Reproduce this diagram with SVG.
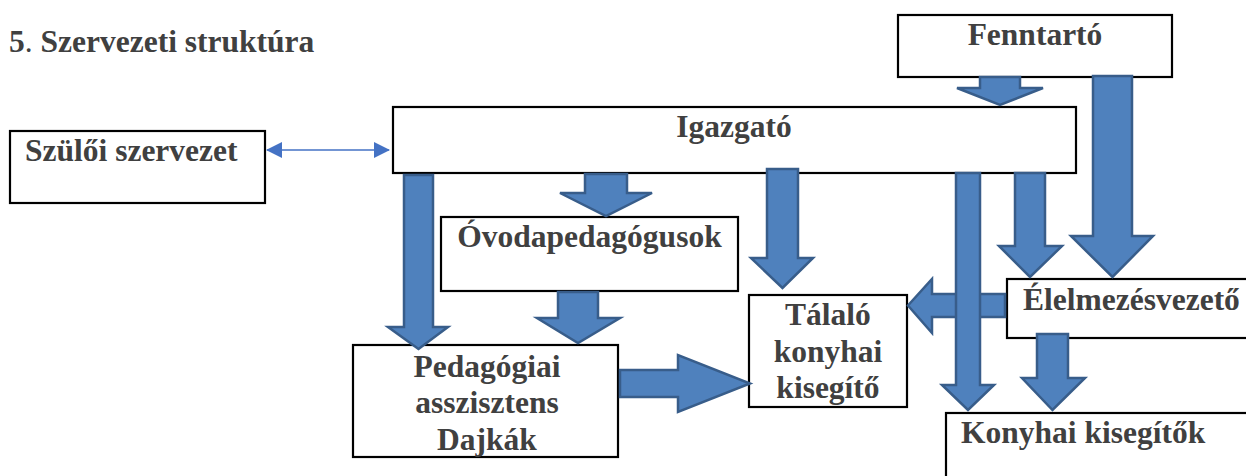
<svg xmlns="http://www.w3.org/2000/svg" width="1246" height="476" viewBox="0 0 1246 476">
<defs>
<style>
.box{fill:#ffffff;stroke:#000000;stroke-width:2.2}
.t{font-family:"Liberation Serif","Times New Roman",serif;font-weight:bold;font-size:31.5px;fill:#404040}
.c{text-anchor:middle}
.arr{fill:#4F81BD;stroke:#385D8A;stroke-width:2.5;stroke-linejoin:miter}
.thin{stroke:#4472C4;stroke-width:1.5;fill:none}
</style>
<marker id="ah" viewBox="0 0 16 16" refX="15" refY="8" markerWidth="16" markerHeight="16" markerUnits="userSpaceOnUse" orient="auto-start-reverse">
<path d="M0,0 L16,8 L0,16 Z" fill="#4472C4"/>
</marker>
</defs>
<rect width="1246" height="476" fill="#ffffff"/>
<text class="t" x="9" y="52">5<tspan font-weight="normal">.</tspan> Szervezeti struktúra</text>

<g id="fenntarto"><rect class="box" x="898" y="15" width="274" height="62"/><text class="t c" x="1035" y="45">Fenntartó</text></g>
<g id="igazgato"><rect class="box" x="393" y="107" width="683" height="66"/><text class="t c" x="734" y="137">Igazgató</text></g>
<g id="szuloi"><rect class="box" x="10" y="131" width="255" height="72"/><text class="t" x="25" y="161">Szülői szervezet</text></g>
<g id="ovoda"><rect class="box" x="441" y="217" width="297" height="74"/><text class="t c" x="589.5" y="247">Óvodapedagógusok</text></g>
<g id="pedasszisztens"><rect class="box" x="353" y="345" width="265" height="112"/><text class="t c" x="487" y="377">Pedagógiai</text><text class="t c" x="487" y="413">asszisztens</text><text class="t c" x="487" y="450">Dajkák</text></g>
<g id="talalo"><rect class="box" x="749" y="295" width="158" height="112"/><text class="t c" x="828" y="325">Tálaló</text><text class="t c" x="828" y="362">konyhai</text><text class="t c" x="828" y="398">kisegítő</text></g>
<g id="elelmezes"><rect class="box" x="1007" y="279" width="246" height="59"/><text class="t" x="1023" y="310">Élelmezésvezető</text></g>
<g id="konyhai"><rect class="box" x="946" y="413" width="307" height="70"/><text class="t" x="961" y="443">Konyhai kisegítők</text></g>

<g id="connectors">
<line class="thin" x1="267" y1="150" x2="389" y2="150" marker-start="url(#ah)" marker-end="url(#ah)"/>
<polygon class="arr" points="980,77 1020,77 1020,88 1043,88 1000,105 957,88 980,88"/>
<polygon class="arr" points="1093,76 1132,76 1132,236 1153,236 1112.5,277 1071,236 1093,236"/>
<polygon class="arr" points="585,174 627,174 627,193 652,193 606,216 560,193 585,193"/>
<polygon class="arr" points="404,175 433,175 433,327 448,327 418.5,349 388,327 404,327"/>
<polygon class="arr" points="767,169 798,169 798,258 813,258 782.5,288 751,258 767,258"/>
<polygon class="arr" points="1015,173 1045,173 1045,246 1062,246 1030,277 999,246 1015,246"/>
<polygon class="arr" points="558,292 598,292 598,318 620,318 578,343 537,318 558,318"/>
<polygon class="arr" points="1037,334 1068,334 1068,378 1085,378 1052.5,410 1022,378 1037,378"/>
<polygon class="arr" points="1005,294 1005,317 932,317 932,333 908,305.5 932,279 932,294"/>
<polygon class="arr" points="956,173 980,173 980,385 994,385 968,410 942,385 956,385"/>
<polygon class="arr" points="620,370 678,370 678,355 750,383.5 678,412 678,397 620,397"/>
</g>
</svg>
